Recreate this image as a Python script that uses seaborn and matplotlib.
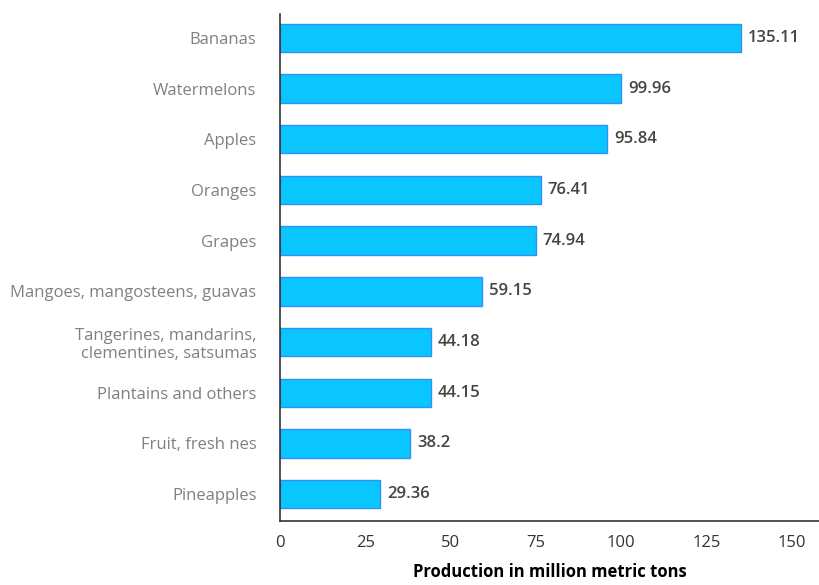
import matplotlib
matplotlib.use('Agg')
import matplotlib.pyplot as plt
import seaborn as sns
import pandas as pd

# Fruit production data
fruits = ['Bananas', 'Watermelons', 'Apples', 'Oranges', 'Grapes',
          'Mangoes, mangosteens, guavas', 'Tangerines, mandarins,\nclementines, satsumas',
          'Plantains and others', 'Fruit, fresh nes', 'Pineapples']
production = [135.11, 99.96, 95.84, 76.41, 74.94, 59.15, 44.18, 44.15, 38.2, 29.36]
value_labels = ['135.11', '99.96', '95.84', '76.41', '74.94', '59.15', '44.18', '44.15', '38.2', '29.36']
x_ticks = [0, 25, 50, 75, 100, 125, 150]

data = pd.DataFrame({'fruit': fruits, 'production': production})

sns.set_style('white')
plt.rcParams['font.family'] = ['Open Sans', 'DejaVu Sans']

fig = plt.figure(figsize=(8.2, 5.85), dpi=100)
ax = fig.add_axes([280 / 820, 1 - 521 / 585, (820 - 280) / 820, (521 - 14) / 585])

sns.barplot(x='production', y='fruit', data=data, color='#0bc5ff', saturation=1,
            width=0.56, edgecolor='#2e8fff', linewidth=1, ax=ax)

for i, (v, lab) in enumerate(zip(production, value_labels)):
    ax.text(v + 2, i, lab, va='center', ha='left', fontsize=12, color='#444444', fontweight='semibold')

ax.set_xlim(0, 158.3)
ax.set_ylim(9.53, -0.47)
ax.set_xticks(x_ticks)
ax.set_xticklabels([str(t) for t in x_ticks], fontsize=12, color='#333333')
ax.tick_params(axis='y', labelsize=12, labelcolor='#808080', length=0, pad=17)
ax.tick_params(axis='x', length=0, pad=10)
ax.set_ylabel('')
ax.set_xlabel('Production in million metric tons', fontsize=12, fontweight='bold', color='black', labelpad=9)

sns.despine(ax=ax, top=True, right=True)
ax.spines['left'].set_color('#333333')
ax.spines['bottom'].set_color('#333333')
ax.spines['left'].set_linewidth(1.2)
ax.spines['bottom'].set_linewidth(1.2)

fig.savefig('out.png', dpi=100)
